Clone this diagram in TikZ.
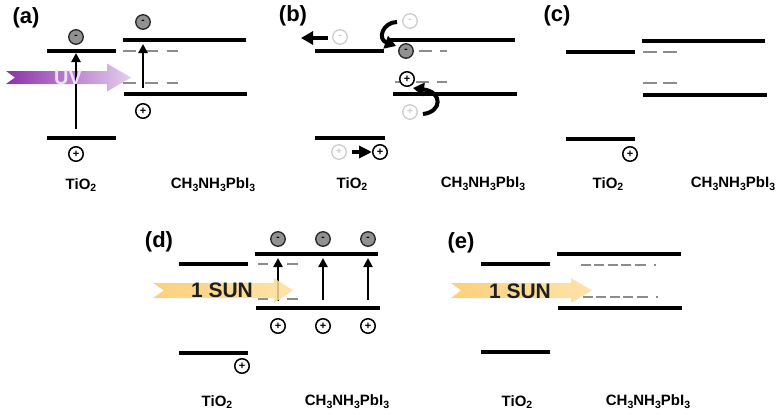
\documentclass[tikz,border=0pt]{standalone}
\usepackage{fontspec}
\setmainfont{Liberation Sans}
\usetikzlibrary{arrows.meta}
\newcommand\lsub[1]{\raisebox{-0.35ex}{\fontsize{10.5}{10.5}\selectfont #1}}
\definecolor{trapgray}{RGB}{140,140,140}
\definecolor{fadegray}{RGB}{205,205,205}
\definecolor{elecgray}{RGB}{145,145,145}
\definecolor{uvdark}{RGB}{140,50,170}
\definecolor{uvlight}{RGB}{228,205,238}
\definecolor{uvtext}{RGB}{238,225,244}
\definecolor{sundark}{RGB}{252,200,100}
\definecolor{sunlight}{RGB}{253,222,155}
\begin{document}
\begin{tikzpicture}[x=1pt,y=-1pt,
  band/.style={line width=4pt},
  trap/.style={line width=2pt, draw=trapgray, dash pattern=on 13pt off 8pt},
  trapd/.style={line width=2pt, draw=trapgray},
  elec/.style={circle, draw=black!85, line width=1.3pt, fill=elecgray, minimum size=14.5pt, inner sep=0pt, font=\bfseries\fontsize{10}{10}\selectfont},
  hole/.style={circle, draw=black, line width=1.5pt, fill=white, minimum size=14.5pt, inner sep=0pt, font=\bfseries\fontsize{11}{11}\selectfont},
  faded/.style={circle, draw=fadegray, text=fadegray, line width=1.3pt, fill=white, minimum size=14.5pt, inner sep=0pt, font=\bfseries\fontsize{10}{10}\selectfont},
  exc/.style={line width=2.6pt, -{Triangle[length=9pt,width=9pt]}},
  move/.style={line width=4.5pt, -{Triangle[length=12pt,width=13pt]}},
  curv/.style={line width=4pt, -{Triangle[length=11pt,width=13pt]}},
  plab/.style={font=\bfseries\fontsize{22}{26}\selectfont},
  mat/.style={font=\bfseries\fontsize{15}{18}\selectfont, inner sep=0pt},
  suntxt/.style={font=\bfseries\fontsize{21}{24}\selectfont, text=black!88},
]
\useasboundingbox (0,0) rectangle (780,415);

% ================= (a) =================
\node[plab] (la) at (26,18) {(a)};
\shade[left color=uvdark, right color=uvlight]
  (6,71) -- (107,71) -- (107,63.5) -- (131,77.5) -- (107,91.5) -- (107,84) -- (6,84) -- (15,77.5) -- cycle;
\draw[band] (47,51) -- (116,51);
\draw[band] (47,138) -- (116,138);
\draw[band] (123,40) -- (246,40);
\draw[band] (124,94) -- (247,94);
\draw[trap, dash pattern=on 13pt off 9pt] (123,51) -- (178,51);
\draw[trap, dash pattern=on 13pt off 9pt] (123,83) -- (178,83);
\node[elec] (ea1) at (76,37) {-};
\node[elec] (ea2) at (143,22) {-};
\node[hole] (ha1) at (76,154) {+};
\node[hole] (ha2) at (143,111) {+};
\coordinate (sa1) at (76,129);
\coordinate (ta1) at (76,53);
\coordinate (sa2) at (143,88);
\coordinate (ta2) at (143,44);
\draw[exc] (sa1) -- (ta1);
\draw[exc] (sa2) -- (ta2);
\node[font=\bfseries\fontsize{20}{22}\selectfont, text=uvtext] (uv) at (68,77.5) {UV};
\node[mat] (ma1) at (81,185) {TiO\lsub{2}};
\node[mat] (ma2) at (213,185) {CH\lsub{3}NH\lsub{3}PbI\lsub{3}};

% ================= (b) =================
\node[plab] (lb) at (293,16) {(b)};
\draw[band] (315,51) -- (384,51);
\draw[band] (315,138) -- (385,138);
\draw[band] (390,40) -- (515,40);
\draw[band] (393,94) -- (517,94);
\draw[trap] (398,51) -- (447,51);
\draw[trap] (395,82) -- (447,82);
\node[elec] (eb1) at (406,51) {-};
\node[faded] (fb1) at (410,21) {-};
\node[faded] (fb2) at (340,37) {-};
\node[hole] (hb1) at (407,79) {+};
\node[faded] (fb3) at (410,112) {+};
\node[faded] (fb4) at (339,152) {+};
\node[hole] (hb2) at (380,152) {+};
\coordinate (cb1s) at (397,22);
\coordinate (cb1e) at (396,46);
\coordinate (cb2s) at (423,114);
\coordinate (cb2e) at (413,88);
\coordinate (mb1) at (301,38);
\draw[curv] (cb1s) .. controls (383,22) and (377,39) .. (cb1e);
\draw[curv] (cb2s) .. controls (442,112) and (443,92) .. (cb2e);
\draw[move] ([xshift=-4pt,yshift=-1pt]fb2.west) -- (mb1);
\draw[move, -{Triangle[length=13pt,width=12pt]}] ([xshift=5pt]fb4.east) -- (hb2.west);
\node[mat] (mb3) at (352,184) {TiO\lsub{2}};
\node[mat] (mb4) at (483,184) {CH\lsub{3}NH\lsub{3}PbI\lsub{3}};

% ================= (c) =================
\node[plab] (lc) at (557,16) {(c)};
\draw[band] (566,52) -- (635,52);
\draw[band] (566,139) -- (635,139);
\draw[band] (642,41) -- (765,41);
\draw[band] (643,95) -- (767,95);
\draw[trap, dash pattern=on 14pt off 6pt] (643,52) -- (677,52);
\draw[trap, dash pattern=on 14pt off 6pt] (643,83) -- (677,83);
\node[hole] (hc1) at (630,154) {+};
\node[mat] (mc1) at (608,184) {TiO\lsub{2}};
\node[mat] (mc2) at (733,184) {CH\lsub{3}NH\lsub{3}PbI\lsub{3}};

% ================= (d) =================
\node[plab] (ld) at (159,242) {(d)};
\draw[band] (179,264) -- (248,264);
\draw[band] (179,353) -- (248,353);
\draw[band] (255,254) -- (378,254);
\draw[band] (256,308) -- (380,308);
\draw[trapd] (258,264) -- (268,264);
\draw[trapd] (287,264) -- (298,264);
\draw[trapd] (258,299) -- (268,299);
\draw[trapd] (287,299) -- (298,299);
\node[elec] (ed1) at (278,239) {-};
\node[elec] (ed2) at (323,239) {-};
\node[elec] (ed3) at (368,239) {-};
\node[hole] (hd1) at (278,326) {+};
\node[hole] (hd2) at (323,326) {+};
\node[hole] (hd3) at (368,326) {+};
\node[hole] (hd4) at (242,366) {+};
\coordinate (sd1) at (278,301);
\coordinate (td1) at (278,258);
\coordinate (sd2) at (323,300);
\coordinate (td2) at (323,258);
\coordinate (sd3) at (368,300);
\coordinate (td3) at (368,258);
\draw[exc] (sd1) -- (td1);
\draw[exc] (sd2) -- (td2);
\draw[exc] (sd3) -- (td3);
\shade[left color=sundark, right color=sunlight, opacity=0.85]
  (153,283) -- (274,283) -- (274,278) -- (293,290.5) -- (274,303) -- (274,298) -- (153,298) -- (164,290.5) -- cycle;
\node[suntxt] (sund) at (222,290.5) {1 SUN};
\node[mat] (md1) at (217,402) {TiO\lsub{2}};
\node[mat] (md2) at (347,402) {CH\lsub{3}NH\lsub{3}PbI\lsub{3}};

% ================= (e) =================
\node[plab] (le) at (461,243) {(e)};
\draw[band] (481,264) -- (550,264);
\draw[band] (481,352) -- (550,352);
\draw[band] (557,254) -- (681,254);
\draw[band] (558,308) -- (682,308);
\draw[trapd, dash pattern=on 10pt off 3.4pt on 10pt off 3.4pt on 10pt off 3.4pt on 10pt off 3.4pt on 11pt off 8pt on 2pt off 20pt] (581,265) -- (660,265);
\draw[trapd, dash pattern=on 10pt off 3.4pt on 10pt off 3.4pt on 10pt off 3.4pt on 10pt off 3.4pt on 11pt off 8pt on 2pt off 20pt] (583,297) -- (662,297);
\shade[left color=sundark, right color=sunlight, opacity=0.85]
  (451,283) -- (571,283) -- (571,278) -- (592,290.5) -- (571,303) -- (571,298) -- (451,298) -- (461,290.5) -- cycle;
\node[suntxt] (sune) at (520,291) {1 SUN};
\node[mat] (me1) at (517,402) {TiO\lsub{2}};
\node[mat] (me2) at (648,402) {CH\lsub{3}NH\lsub{3}PbI\lsub{3}};
\end{tikzpicture}
\end{document}
